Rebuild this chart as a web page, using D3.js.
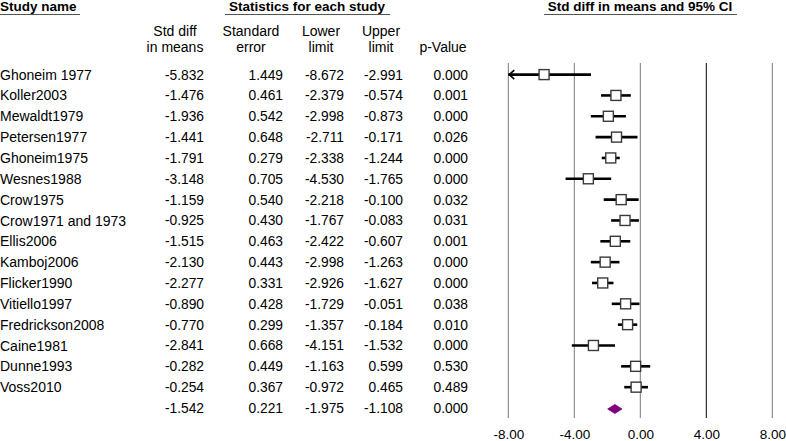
<!DOCTYPE html>
<html>
<head>
<meta charset="utf-8">
<script src="https://cdn.jsdelivr.net/npm/d3@7"></script>
<style>
  body { margin: 0; background: #fff; }
  svg text { font-family: "Liberation Sans", Arial, sans-serif; fill: #000; }
</style>
</head>
<body>
<div id="chart"></div>
<script>

var studies = ["Ghoneim 1977", "Koller2003", "Mewaldt1979", "Petersen1977", "Ghoneim1975",
	"Wesnes1988", "Crow1975", "Crow1971 and 1973", "Ellis2006", "Kamboj2006", "Flicker1990",
	"Vitiello1997", "Fredrickson2008", "Caine1981", "Dunne1993", "Voss2010"];
var stdDiff = [-5.832, -1.476, -1.936, -1.441, -1.791, -3.148, -1.159, -0.925, -1.515, -2.130,
	-2.277, -0.890, -0.770, -2.841, -0.282, -0.254];
var stdErr = [1.449, 0.461, 0.542, 0.648, 0.279, 0.705, 0.540, 0.430, 0.463, 0.443, 0.331,
	0.428, 0.299, 0.668, 0.449, 0.367];
var lower = [-8.672, -2.379, -2.998, -2.711, -2.338, -4.530, -2.218, -1.767, -2.422, -2.998,
	-2.926, -1.729, -1.357, -4.151, -1.163, -0.972];
var upper = [-2.991, -0.574, -0.873, -0.171, -1.244, -1.765, -0.100, -0.083, -0.607, -1.263,
	-1.627, -0.051, -0.184, -1.532, 0.599, 0.465];
var pValue = [0.000, 0.001, 0.000, 0.026, 0.000, 0.000, 0.032, 0.031, 0.001, 0.000, 0.000,
	0.038, 0.010, 0.000, 0.530, 0.489];

// pooled row
var summary = { diff: -1.542, se: 0.221, lower: -1.975, upper: -1.108, p: 0.000 };

var columnHeads = [["Std diff", "in means"], ["Standard", "error"], ["Lower", "limit"], ["Upper", "limit"], ["p-Value"]];
var tickValues = [-8, -4, 0, 4, 8];

var width = 786, height = 441;

var svg = d3.select("#chart")
	.append("svg")
	.attr("width", width)
	.attr("height", height);

var x = d3.scaleLinear().domain([-8, 8]).range([508.3, 772.3]);
var y = d3.scaleLinear().domain([0, 16]).range([74.6, 408]);

var colRight = [204, 283, 344, 403, 468];
var colMid = [175, 251, 321, 381, 443];

// plain hyphen for negatives, like the source table
var locale = d3.formatLocale({ decimal: ".", thousands: ",", grouping: [3], currency: ["", ""], minus: "-" });
var fmt3 = locale.format(".3f");
var fmt2 = locale.format(".2f");

// ---- headers
function heading(txt, cx, anchor, x1, x2) {
	svg.append("text")
		.attr("x", cx)
		.attr("y", 11)
		.attr("text-anchor", anchor)
		.style("font-size", "13.5px")
		.style("font-weight", "bold")
		.text(txt);
	svg.append("line")
		.attr("x1", x1).attr("x2", x2)
		.attr("y1", 14.5).attr("y2", 14.5)
		.attr("stroke", "#555")
		.attr("stroke-width", 1.2);
}
heading("Study name", 0, "start", 0, 80);
heading("Statistics for each study", 307, "middle", 225, 390);
heading("Std diff in means and 95% CI", 640, "middle", 544, 737);

columnHeads.forEach(function(lines, c) {
	lines.forEach(function(t, k) {
		svg.append("text")
			.attr("x", colMid[c])
			.attr("y", 52 - (lines.length - 1 - k) * 16)
			.attr("text-anchor", "middle")
			.style("font-size", "14px")
			.text(t);
	});
});

// ---- table rows
var rows = studies.map(function(s, i) {
	return { name: s, vals: [stdDiff[i], stdErr[i], lower[i], upper[i], pValue[i]], i: i };
});
rows.push({ name: "", vals: [summary.diff, summary.se, summary.lower, summary.upper, summary.p], i: 16 });

var table = svg.append("g");
rows.forEach(function(r) {
	var g = table.append("g").attr("transform", "translate(0," + y(r.i) + ")");
	g.append("text")
		.attr("x", 0)
		.attr("dy", "0.36em")
		.style("font-size", "14px")
		.text(r.name);
	r.vals.forEach(function(v, c) {
		g.append("text")
			.attr("x", colRight[c])
			.attr("dy", "0.36em")
			.attr("text-anchor", "end")
			.style("font-size", "13.8px")
			.text(fmt3(v));
	});
});

// ---- forest plot
var plot = svg.append("g");

plot.selectAll("line.grid")
	.data(tickValues)
	.enter().append("line")
	.attr("class", "grid")
	.attr("x1", function(d) { return x(d); })
	.attr("x2", function(d) { return x(d); })
	.attr("y1", 63)
	.attr("y2", 418)
	.attr("stroke", function(d) { return d === 4 ? "#000" : "#7a7a7a"; })
	.attr("stroke-width", 1);

var axis = d3.axisBottom(x)
	.tickValues(tickValues)
	.tickFormat(fmt2)
	.tickSize(0)
	.tickPadding(11);

var ax = plot.append("g")
	.attr("transform", "translate(0,418)")
	.call(axis);
ax.select(".domain").remove();
ax.selectAll("text")
	.style("font-size", "13.5px")
	.attr("fill", "#000");

var xmin = x.domain()[0], xmax = x.domain()[1];

var studyG = plot.selectAll("g.study")
	.data(rows.slice(0, 16))
	.enter().append("g")
	.attr("class", "study")
	.attr("transform", function(d) { return "translate(0," + y(d.i) + ")"; });

studyG.append("line")
	.attr("x1", function(d) { return x(Math.max(d.vals[2], xmin)); })
	.attr("x2", function(d) { return x(Math.min(d.vals[3], xmax)); })
	.attr("stroke", "#000")
	.attr("stroke-width", 2.6);

// arrow where the interval runs off the scale
studyG.filter(function(d) { return d.vals[2] < xmin; })
	.append("path")
	.attr("d", function() {
		var x0 = x(xmin) + 1;
		return "M" + (x0 + 5) + ",-4.5L" + x0 + ",0L" + (x0 + 5) + ",4.5";
	})
	.attr("fill", "none")
	.attr("stroke", "#000")
	.attr("stroke-width", 1.6);

studyG.append("rect")
	.attr("x", function(d) { return x(d.vals[0]) - 5; })
	.attr("y", -5)
	.attr("width", 10)
	.attr("height", 10)
	.attr("fill", "#fff")
	.attr("stroke", "#3a3a3a")
	.attr("stroke-width", 1.4);

// summary diamond
var sy = y(16) + 1;
plot.append("path")
	.attr("d", "M" + x(summary.lower) + "," + sy +
		"L" + x(summary.diff) + "," + (sy - 4.5) +
		"L" + x(summary.upper) + "," + sy +
		"L" + x(summary.diff) + "," + (sy + 4.5) + "Z")
	.attr("fill", "#800080")
	.attr("stroke", "#800080")
	.attr("stroke-width", 0.8);

</script>
</body>
</html>
